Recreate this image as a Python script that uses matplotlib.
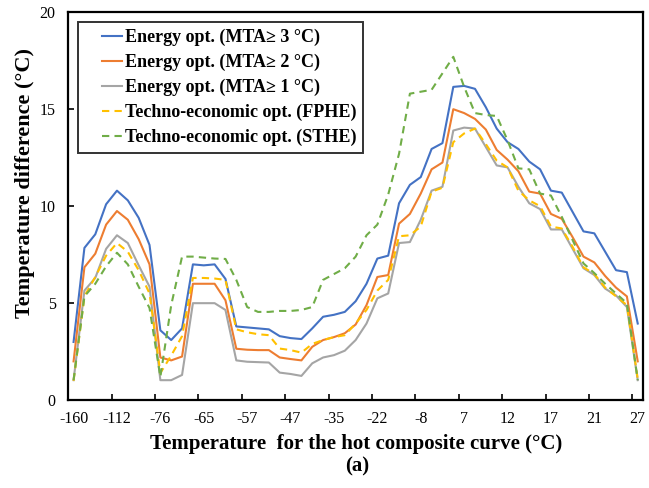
import matplotlib

matplotlib.use("Agg")

import matplotlib.pyplot as plt
from matplotlib.legend_handler import HandlerLine2D
import numpy as np

# tick labels shown on the category axis (every 4th category)
tick_labels = ["-160", "-112", "-76", "-65", "-57", "-47", "-35",
               "-22", "-8", "7", "12", "17", "21", "27"]

# temperature difference (degC) for each category
mta3 = [3.0, 7.85, 8.55, 10.1, 10.8, 10.3, 9.4, 8.0, 3.6, 3.1, 3.7,
        7.0, 6.95, 7.0, 6.25, 3.8, 3.75, 3.7, 3.65, 3.3, 3.2, 3.15,
        3.7, 4.3, 4.4, 4.55, 5.1, 6.0, 7.3, 7.45, 10.15, 11.1, 11.5,
        12.95, 13.25, 16.15, 16.2, 16.05, 15.1, 14.0, 13.3, 12.95, 12.3,
        11.9, 10.8, 10.7, 9.7, 8.7, 8.6, 7.65, 6.7, 6.6, 3.95]
mta2 = [2.0, 6.85, 7.55, 9.05, 9.75, 9.3, 8.3, 7.0, 2.2, 2.05, 2.25,
        6.0, 6.0, 6.0, 5.15, 2.65, 2.6, 2.58, 2.58, 2.2, 2.12, 2.05,
        2.75, 3.1, 3.25, 3.45, 3.9, 4.9, 6.35, 6.45, 9.1, 9.6, 10.65,
        11.9, 12.25, 15.0, 14.8, 14.5, 13.95, 12.9, 12.4, 11.8, 10.75,
        10.65, 9.6, 9.35, 8.4, 7.4, 7.1, 6.4, 5.8, 5.35, 2.0]
mta1 = [1.03, 5.65, 6.3, 7.8, 8.5, 8.1, 6.95, 5.85, 1.03, 1.03, 1.3,
        5.0, 5.0, 5.0, 4.65, 2.05, 1.98, 1.96, 1.94, 1.42, 1.35, 1.25,
        1.9, 2.2, 2.32, 2.55, 3.1, 3.95, 5.25, 5.5, 8.1, 8.15, 9.3,
        10.8, 11.0, 13.9, 14.05, 14.0, 13.05, 12.1, 12.0, 11.0, 10.15,
        9.85, 8.8, 8.8, 7.8, 6.8, 6.45, 5.75, 5.4, 4.8, 1.03]
fphe = [1.0, 5.35, 6.35, 7.45, 8.1, 7.65, 6.7, 5.5, 1.4, 2.3, 3.3,
        6.3, 6.3, 6.27, 6.2, 3.65, 3.5, 3.4, 3.35, 2.66, 2.58, 2.45,
        2.9, 3.1, 3.25, 3.35, 3.95, 4.65, 5.65, 6.2, 8.45, 8.5, 8.95,
        10.75, 10.95, 13.3, 13.75, 14.0, 13.2, 12.35, 12.0, 10.8, 10.3,
        10.0, 8.95, 8.85, 7.9, 6.85, 6.5, 5.8, 5.35, 4.9, 1.1]
sthe = [1.03, 5.35, 6.0, 6.9, 7.6, 7.0, 5.85, 4.75, 1.2, 4.9, 7.4,
        7.4, 7.35, 7.3, 7.28, 6.2, 4.8, 4.55, 4.55, 4.6, 4.6, 4.65,
        4.8, 6.2, 6.5, 6.8, 7.4, 8.5, 9.05, 10.6, 12.7, 15.8, 15.9,
        16.0, 16.85, 17.7, 16.15, 14.8, 14.7, 14.65, 13.4, 11.95, 11.9,
        10.65, 10.55, 9.45, 8.25, 7.05, 6.55, 6.0, 5.5, 5.0, 1.03]

series = [
    ("Energy opt. (MTA\u2265 3 \u00b0C)", mta3, "#4472C4", "-"),
    ("Energy opt. (MTA\u2265 2 \u00b0C)", mta2, "#ED7D31", "-"),
    ("Energy opt. (MTA\u2265 1 \u00b0C)", mta1, "#A5A5A5", "-"),
    ("Techno-economic opt. (FPHE)", fphe, "#FFC000", "--"),
    ("Techno-economic opt. (STHE)", sthe, "#70AD47", "--"),
]

plt.rcParams["font.family"] = ["Liberation Serif", "DejaVu Serif"]

fig = plt.figure(figsize=(6.49, 4.88), dpi=100)
ax = fig.add_axes([0.105, 0.180, 0.886, 0.795])

x = np.arange(len(mta3))
for label, vals, color, ls in series:
    line, = ax.plot(x, vals, color=color, linestyle=ls, linewidth=1.5,
                    label=label)
    if ls == "--":
        line.set_dashes((3.5, 2.5))

ax.set_xlim(-0.5, len(x) - 0.5)
ax.set_ylim(0, 20)
ax.set_yticks([0, 5, 10, 15, 20])

# labels on every 4th category, tick marks between categories
ax.set_xticks(x[::4])
ax.set_xticklabels(tick_labels)
ax.set_xticks(np.arange(3.5, len(x) - 1, 4), minor=True)
ax.tick_params(axis="x", which="major", length=0, labelsize=11.5, pad=8)
ax.tick_params(axis="x", which="minor", direction="in", length=4,
               width=1.2)
ax.tick_params(axis="y", direction="in", length=4, width=1.2,
               labelsize=11.5, pad=9)

for sp in ax.spines.values():
    sp.set_linewidth(1.6)
    sp.set_color("black")

ax.set_xlabel("Temperature  for the hot composite curve (\u00b0C)",
              fontsize=15, fontweight="bold", labelpad=5)
ax.set_ylabel("Temperature difference (\u00b0C)", fontsize=16,
              fontweight="bold")
ax.yaxis.set_label_coords(-0.058, 0.56)
fig.text(0.551, 0.033, "(a)", ha="center", fontsize=15,
         fontweight="bold")

# short legend lines pushed right, as in the original
handler = HandlerLine2D(xpad=0.95)
leg = ax.legend(loc="upper left", bbox_to_anchor=(0.017, 0.974),
                prop={"weight": "bold", "size": 13}, frameon=True,
                fancybox=False, edgecolor="black", handlelength=2.05,
                handletextpad=0.17, labelspacing=0.42, borderpad=0.38,
                borderaxespad=0,
                handler_map={l: handler for l in ax.get_lines()})
leg.get_frame().set_linewidth(1.4)

plt.savefig("out.png", dpi=100)
